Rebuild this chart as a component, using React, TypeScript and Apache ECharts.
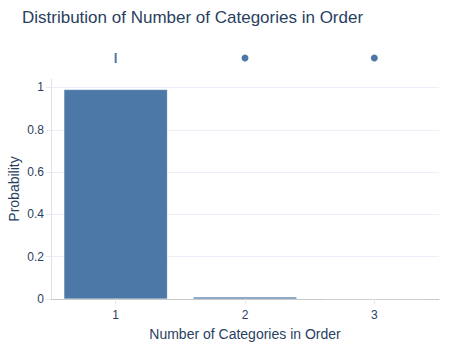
import React, { useEffect, useRef } from "react";
import * as echarts from "echarts";

const categories = ["1", "2", "3"];
const probabilities = [0.99, 0.009, 0.0008];
const boxStats = [[1, 1, 1, 1, 1]];
const outliers = [[2, 0], [3, 0]];
const yTicks = [0, 0.2, 0.4, 0.6, 0.8, 1];

const TEXT = "#2a3f5f";
const BLUE = "#4c78a8";
const FONT = "'Liberation Sans', Arial, sans-serif";

export default function App() {
  const ref = useRef<HTMLDivElement>(null);
  useEffect(() => {
    if (!ref.current) return;
    const chart = echarts.init(ref.current, undefined, { renderer: "svg" });
    chart.setOption({
      animation: false,
      backgroundColor: "#fff",
      textStyle: { fontFamily: FONT, color: TEXT },
      title: {
        text: "Distribution of Number of Categories in Order",
        left: 22,
        top: 9,
        padding: 0,
        textStyle: { fontSize: 17, fontWeight: "normal", color: TEXT, fontFamily: FONT },
      },
      grid: [
        { left: 51, right: 11, top: 79, bottom: 51, outerBoundsMode: "none", containLabel: false },
        { left: 51, right: 11, top: 48, height: 20, outerBoundsMode: "none", containLabel: false },
      ],
      xAxis: [
        {
          type: "category",
          gridIndex: 0,
          data: categories,
          name: "Number of Categories in Order",
          nameLocation: "middle",
          nameGap: 28,
          nameTextStyle: { fontSize: 14, color: TEXT, fontFamily: FONT },
          axisLine: { show: true, lineStyle: { color: "#c8c8c8", width: 1 } },
          axisTick: { show: true, alignWithLabel: true, length: 5, lineStyle: { color: "#e4e8ef" } },
          axisLabel: { fontSize: 12, color: TEXT, margin: 10, fontFamily: FONT },
          splitLine: { show: false },
        },
        { type: "value", gridIndex: 1, min: 0.5, max: 3.5, show: false },
      ],
      yAxis: [
        {
          type: "value",
          gridIndex: 0,
          min: 0,
          max: 1.04,
          interval: 0.2,
          name: "Probability",
          nameLocation: "middle",
          nameGap: 30,
          nameMoveOverlap: false,
          nameTextStyle: { fontSize: 14, color: TEXT, fontFamily: FONT },
          axisLine: { show: true, lineStyle: { color: "#dde1e8", width: 1 } },
          axisTick: { show: true, length: 5, lineStyle: { color: "#e4e8ef" } },
          axisLabel: {
            fontSize: 12,
            color: TEXT,
            margin: 7,
            fontFamily: FONT,
            showMaxLabel: false,
            formatter: (v: number) => (yTicks.some((t) => Math.abs(t - v) < 1e-9) ? String(+v.toFixed(1)) : ""),
          },
          splitLine: { show: true, showMaxLine: false, lineStyle: { color: "#ebf0f8", width: 1 } },
        },
        { type: "category", gridIndex: 1, data: ["box"], show: false },
      ],
      series: [
        {
          type: "bar",
          xAxisIndex: 0,
          yAxisIndex: 0,
          data: probabilities,
          barCategoryGap: "20%",
          itemStyle: { color: BLUE, borderColor: "rgba(255,255,255,0.4)", borderWidth: 0.5 },
        },
        {
          type: "boxplot",
          xAxisIndex: 1,
          yAxisIndex: 1,
          layout: "horizontal",
          data: boxStats,
          boxWidth: [10, 10],
          itemStyle: { color: "rgba(76,120,168,0.5)", borderColor: BLUE, borderWidth: 2 },
        },
        {
          type: "scatter",
          xAxisIndex: 1,
          yAxisIndex: 1,
          data: outliers,
          symbolSize: 7,
          itemStyle: { color: BLUE, opacity: 1 },
        },
      ],
    });
    return () => chart.dispose();
  }, []);
  return <div ref={ref} style={{ position: "absolute", left: 0, top: 0, width: 450, height: 350 }} />;
}
